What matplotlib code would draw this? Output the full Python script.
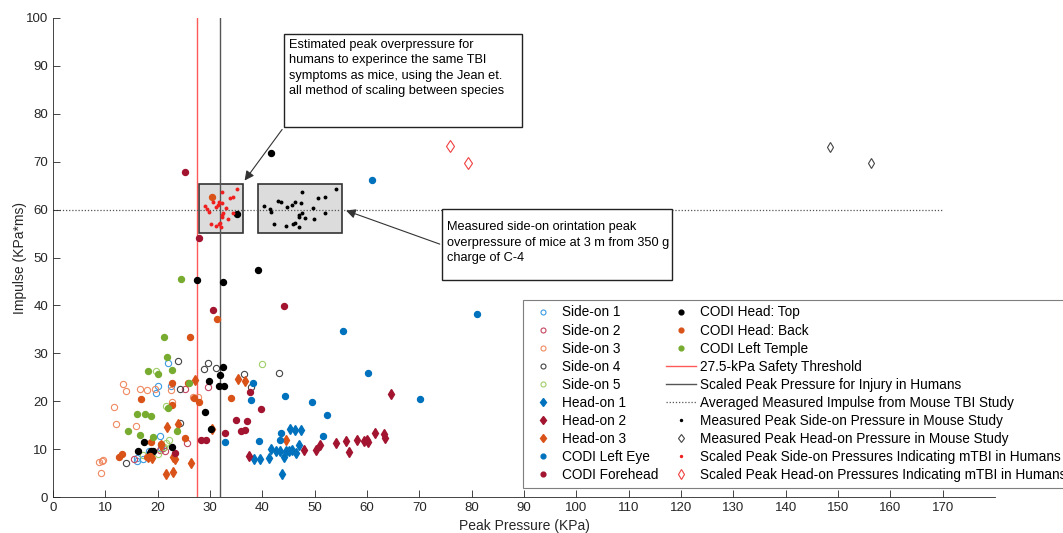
import numpy as np
import matplotlib.pyplot as plt
from matplotlib.patches import Rectangle

plt.rcParams['font.family'] = ['Liberation Sans', 'DejaVu Sans']

# side-on sensor data (peak pressure kPa, impulse kPa*ms)
side1_x = [22.0, 20.1, 19.6, 22.6, 20.4, 16.0, 16.0, 17.2, 18.4, 20.6]
side1_y = [28.0, 23.2, 21.7, 23.2, 12.8, 8.2, 7.6, 7.9, 9.7, 10.2]
side2_x = [25.3, 25.6, 29.6, 15.5, 21.1, 20.4, 21.4]
side2_y = [22.5, 11.3, 22.9, 7.9, 10.2, 9.8, 9.7]
side3_x = [8.7, 9.5, 9.1, 11.7, 12.1, 13.4, 14.0, 15.8, 16.7, 17.9, 19.5, 22.6, 22.7, 26.8, 27.7, 9.3]
side3_y = [7.4, 7.7, 5.1, 18.7, 15.2, 23.6, 22.2, 14.8, 22.6, 22.3, 22.6, 22.3, 19.9, 20.9, 20.9, 7.6]
side4_x = [13.9, 23.9, 24.2, 24.2, 28.8, 29.7, 31.1, 36.5, 37.9, 43.2]
side4_y = [7.2, 28.3, 22.5, 15.5, 26.7, 27.9, 26.9, 25.7, 22.9, 25.9]
side5_x = [17.2, 18.8, 20.0, 21.3, 21.6, 22.2, 19.7, 21.5, 39.9]
side5_y = [8.7, 8.6, 9.0, 10.4, 11.2, 11.8, 26.4, 19.0, 27.7]

# head-on sensor data
head1_x = [38.5, 39.6, 41.3, 41.7, 42.7, 43.3, 43.8, 44.1, 44.6, 45.1, 45.2, 46.2, 47.3, 46.5, 47.1, 45.6]
head1_y = [7.9, 8.0, 8.1, 10.0, 9.7, 9.7, 4.9, 8.4, 9.6, 9.7, 14.3, 14.0, 14.0, 9.2, 10.9, 9.9]
head2_x = [37.5, 47.9, 50.3, 51.1, 54.1, 55.9, 56.5, 58.0, 59.5, 60.0, 60.2, 61.6, 63.2, 63.5, 64.5]
head2_y = [8.6, 9.8, 9.8, 10.9, 11.2, 11.7, 9.3, 11.8, 11.6, 11.9, 11.5, 13.4, 13.1, 12.4, 21.6]
head3_x = [27.1, 35.4, 36.7, 21.7, 23.8, 21.6, 23.0, 26.4, 23.0, 23.3, 30.3, 20.7, 18.4, 19.0, 44.6, 18.1]
head3_y = [24.4, 24.6, 24.2, 14.7, 15.2, 4.9, 5.3, 7.0, 8.3, 7.9, 14.3, 10.9, 8.6, 8.1, 12.0, 8.3]

# CODI headform data
eye_x = [60.9, 81.0, 55.5, 60.1, 70.2, 49.4, 52.3, 51.6, 44.3, 38.2, 37.8, 43.5, 43.3, 39.3, 32.8]
eye_y = [66.1, 38.3, 34.7, 25.9, 20.5, 19.9, 17.2, 12.7, 21.1, 23.7, 20.3, 13.3, 12.0, 11.6, 11.4]
fore_x = [25.2, 27.9, 30.5, 44.1, 37.7, 39.8, 32.8, 34.9, 36.0, 36.6, 37.0, 28.2, 29.3, 23.3]
fore_y = [67.8, 54.1, 39.0, 39.9, 22.0, 18.4, 13.4, 16.1, 13.8, 14.0, 15.9, 11.8, 12.0, 9.2]
top_x = [41.7, 27.5, 32.4, 35.2, 39.1, 32.4, 31.9, 31.7, 32.7, 29.8, 29.0, 30.1, 17.4, 16.3, 18.8, 19.1, 22.7, 18.6]
top_y = [71.8, 45.2, 44.8, 59.1, 47.4, 27.1, 25.5, 23.2, 23.2, 24.2, 17.7, 14.1, 11.5, 9.5, 9.5, 9.6, 10.5, 9.2]
back_x = [26.1, 31.4, 16.9, 22.7, 25.8, 27.9, 34.0, 25.2, 18.8, 22.7, 20.7, 12.7, 13.2, 17.9, 18.5, 30.3, 26.9]
back_y = [33.5, 37.1, 20.5, 23.7, 23.9, 19.8, 20.7, 12.4, 11.5, 19.2, 11.1, 8.3, 8.9, 8.3, 8.6, 62.6, 20.6]
temple_x = [24.4, 21.2, 21.8, 18.2, 20.1, 22.8, 26.0, 21.9, 16.0, 17.6, 18.8, 14.4, 16.7, 19.1, 23.6]
temple_y = [45.6, 33.3, 29.2, 26.3, 25.6, 26.5, 23.7, 18.5, 17.3, 17.3, 16.9, 13.8, 12.9, 12.5, 13.8]

# mouse study
mouse_side_x = [47.5, 54.1, 50.6, 52.0, 40.3, 43.0, 43.6, 45.7, 46.2, 47.4, 41.4, 41.7, 44.7, 49.6,
                47.1, 47.6, 47.1, 48.2, 49.8, 51.9, 42.3, 44.5, 45.9, 46.3, 47.1]
mouse_side_y = [63.7, 64.2, 62.5, 62.6, 60.8, 61.7, 61.6, 60.9, 61.6, 61.4, 60.2, 59.6, 60.6, 60.3,
                58.9, 59.2, 58.4, 58.3, 58.0, 59.2, 56.9, 56.6, 56.9, 57.1, 56.3]
mouse_head_x = [148.5, 156.4]
mouse_head_y = [73.1, 69.7]
scaled_side_x = [32.3, 35.2, 33.8, 34.4, 29.1, 30.5, 31.7, 32.2, 31.5, 31.1, 29.5, 29.8, 33.0, 34.3,
                 32.3, 32.3, 33.4, 30.1, 31.2, 31.8, 31.9, 32.1, 32.5]
scaled_side_y = [63.7, 64.2, 62.5, 62.6, 60.8, 61.6, 61.6, 61.3, 60.9, 60.6, 60.2, 59.6, 60.3, 59.2,
                 58.9, 58.4, 58.0, 56.9, 56.6, 56.9, 57.1, 56.3, 59.2]
scaled_head_x = [75.9, 79.3]
scaled_head_y = [73.3, 69.7]

threshold = 27.5
scaled_injury = 32.0
avg_impulse = 60.0

fig = plt.figure(figsize=(10.63, 5.33), dpi=100)
ax = fig.add_axes([53/1063, 36/533, 942/1063, 479/533])

blue = '#0072BD'
orange = '#D95319'
green = '#77AC30'
crimson = '#A2142F'

# grey boxes around the mouse data
pad = 1.2
for xs, ys in [(scaled_side_x, scaled_side_y), (mouse_side_x, mouse_side_y)]:
    x0, x1 = min(xs) - pad, max(xs) + pad
    y0, y1 = min(ys) - pad, max(ys) + pad
    ax.add_patch(Rectangle((x0, y0), x1 - x0, y1 - y0, facecolor='#DCDCDC',
                           edgecolor='#333333', lw=1.2, zorder=1))

h = []
open_kw = dict(ls='none', marker='o', ms=4.5, mfc='none', mew=0.8)
h.append(ax.plot(side1_x, side1_y, color='#3D9BE0', label='Side-on 1', **open_kw)[0])
h.append(ax.plot(side2_x, side2_y, color='#C4455F', label='Side-on 2', **open_kw)[0])
h.append(ax.plot(side3_x, side3_y, color='#EF8A62', label='Side-on 3', **open_kw)[0])
h.append(ax.plot(side4_x, side4_y, color='#444444', label='Side-on 4', **open_kw)[0])
h.append(ax.plot(side5_x, side5_y, color='#A0CF6A', label='Side-on 5', **open_kw)[0])
dia_kw = dict(ls='none', marker='d', ms=5.5)
h.append(ax.plot(head1_x, head1_y, color=blue, label='Head-on 1', **dia_kw)[0])
h.append(ax.plot(head2_x, head2_y, color=crimson, label='Head-on 2', **dia_kw)[0])
h.append(ax.plot(head3_x, head3_y, color=orange, label='Head-on 3', **dia_kw)[0])
dot_kw = dict(ls='none', marker='o', ms=4.3)
h.append(ax.plot(eye_x, eye_y, color=blue, label='CODI Left Eye', **dot_kw)[0])
h.append(ax.plot(fore_x, fore_y, color=crimson, label='CODI Forehead', **dot_kw)[0])
h.append(ax.plot(top_x, top_y, color='black', label='CODI Head: Top', **dot_kw)[0])
h.append(ax.plot(back_x, back_y, color=orange, label='CODI Head: Back', **dot_kw)[0])
h.append(ax.plot(temple_x, temple_y, color=green, label='CODI Left Temple', **dot_kw)[0])

h.append(ax.axvline(threshold, color='#FF5A5A', lw=1, label='27.5-kPa Safety Threshold', zorder=1.5))
h.append(ax.axvline(scaled_injury, color='#555555', lw=1, label='Scaled Peak Pressure for Injury in Humans', zorder=1.5))
h.append(ax.plot([0, 170], [avg_impulse, avg_impulse], color='#555555', ls=(0, (1, 1.5)), lw=0.9,
                 label='Averaged Measured Impulse from Mouse TBI Study', zorder=1.5)[0])
h.append(ax.plot(mouse_side_x, mouse_side_y, ls='none', marker='o', ms=1.8, color='black',
                 label='Measured Peak Side-on Pressure in Mouse Study')[0])
h.append(ax.plot(mouse_head_x, mouse_head_y, ls='none', marker='d', ms=5.5, mfc='none', mew=0.8,
                 color='#444444', label='Measured Peak Head-on Pressure in Mouse Study')[0])
h.append(ax.plot(scaled_side_x, scaled_side_y, ls='none', marker='o', ms=1.8, color='#F02020',
                 label='Scaled Peak Side-on Pressures Indicating mTBI in Humans')[0])
h.append(ax.plot(scaled_head_x, scaled_head_y, ls='none', marker='d', ms=6.5, mfc='none', mew=0.8,
                 color='#F04040', label='Scaled Peak Head-on Pressures Indicating mTBI in Humans')[0])

ax.set_xlim(0, 180)
ax.set_ylim(0, 100)
ax.set_xticks(np.arange(0, 171, 10))
ax.set_yticks(np.arange(0, 101, 10))
for s in ['top', 'right']:
    ax.spines[s].set_visible(False)
for s in ['left', 'bottom']:
    ax.spines[s].set_color('#262626')
    ax.spines[s].set_linewidth(0.6)
ax.tick_params(direction='in', length=5, width=0.6, colors='#262626', labelsize=9.5)
ax.set_xlabel('Peak Pressure (KPa)', fontsize=10, color='#262626', labelpad=4)
ax.set_ylabel('Impulse (KPa*ms)', fontsize=10, color='#262626', labelpad=-1)

# text call-outs
ax.annotate('', xy=(36.3, 65.6), xytext=(44.1, 77.2),
            arrowprops=dict(arrowstyle='-|>', color='#333333', lw=0.8, mutation_scale=14))
ax.add_patch(Rectangle((44.1, 77.2), 45.6, 19.5, facecolor='white', edgecolor='#222222', lw=1, zorder=5))
ax.text(45.0, 95.7, 'Estimated peak overpressure for\nhumans to experince the same TBI\n'
        'symptoms as mice, using the Jean et.\nall method of scaling between species',
        fontsize=9.2, va='top', ha='left', linespacing=1.4, zorder=6)
ax.annotate('', xy=(55.5, 60.0), xytext=(74.4, 52.6),
            arrowprops=dict(arrowstyle='-|>', color='#333333', lw=0.8, mutation_scale=14))
ax.add_patch(Rectangle((74.4, 45.3), 43.9, 14.8, facecolor='white', edgecolor='#222222', lw=1, zorder=5))
ax.text(75.3, 57.6, 'Measured side-on orintation peak\noverpressure of mice at 3 m from 350 g\ncharge of C-4',
        fontsize=9.2, va='top', ha='left', linespacing=1.4, zorder=6)

leg = fig.legend(handles=h, loc='upper left', bbox_to_anchor=(523/1063, 1 - 300/533), ncol=2,
                 fontsize=9.8, frameon=True, fancybox=False, framealpha=1, edgecolor='#7F7F7F',
                 handlelength=2.2, handletextpad=0.3, columnspacing=0.55, labelspacing=0.3,
                 borderpad=0.4, borderaxespad=0, markerscale=0.8)
leg.get_frame().set_linewidth(0.8)

fig.savefig('out.png', dpi=100)
